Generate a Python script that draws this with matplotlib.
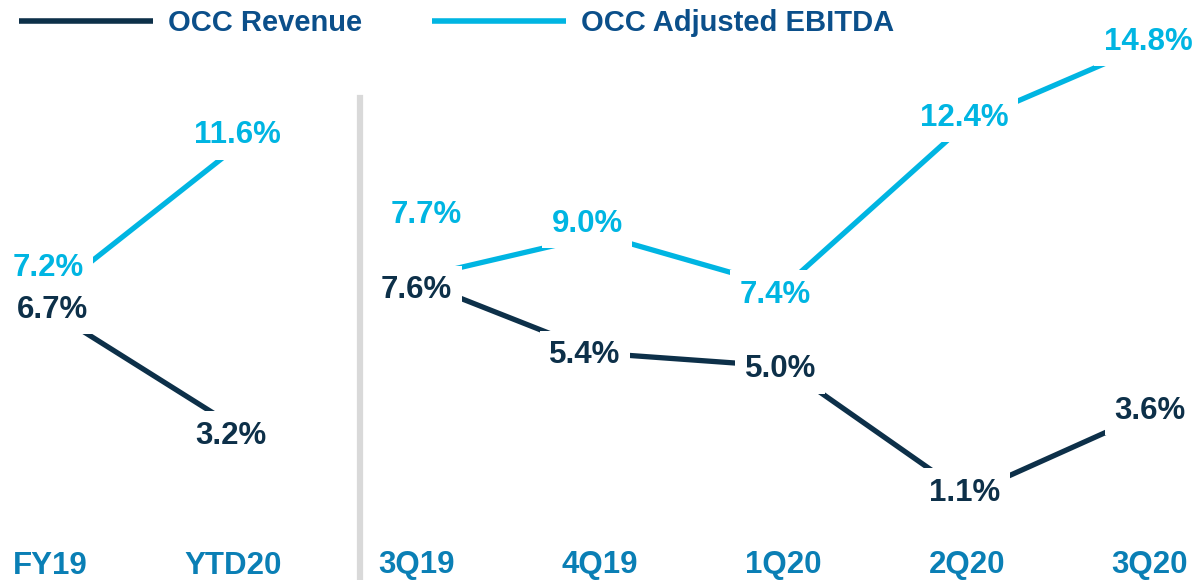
import matplotlib.pyplot as plt

plt.rcParams["font.family"] = ["Liberation Sans", "DejaVu Sans"]
plt.rcParams["font.weight"] = "bold"

# data
categories = ["FY19", "YTD20", "3Q19", "4Q19", "1Q20", "2Q20", "3Q20"]
revenue = [6.7, 3.2, 7.6, 5.4, 5.0, 1.1, 3.6]
ebitda = [7.2, 11.6, 7.7, 9.0, 7.4, 12.4, 14.8]
annual_idx = [0, 1]
quarter_idx = [2, 3, 4, 5, 6]

REV_COLOR = "#0d3049"
EBITDA_COLOR = "#00b5e2"
CAT_COLOR = "#0a7fb5"
LEGEND_COLOR = "#0b4f8a"

# label offsets in pixels (dx, dy)
rev_offsets = [(2, 1), (-2, -10), (0, -9), (-15, -2), (-3, -3), (-2, 2), (0, 2)]
ebitda_offsets = [(-2, 26), (4, 14), (10, 63), (-13, 11), (-8, -7), (-2, 5), (-2, 2)]


def main():
    fig = plt.figure(figsize=(11.96, 5.8), dpi=100)
    ax = fig.add_axes([0, 0, 1, 1])
    ax.set_xlim(-0.273, 6.251)
    ax.set_ylim(-1.49, 16.14)
    ax.axis("off")

    for idx in (annual_idx, quarter_idx):
        ax.plot(idx, [revenue[i] for i in idx], color=REV_COLOR, lw=3.8,
                solid_capstyle="butt", zorder=1,
                label="OCC Revenue" if idx is annual_idx else None)
        ax.plot(idx, [ebitda[i] for i in idx], color=EBITDA_COLOR, lw=3.8,
                solid_capstyle="butt", zorder=1,
                label="OCC Adjusted EBITDA" if idx is annual_idx else None)

    box = dict(boxstyle="square,pad=0.3", fc="white", ec="none")
    for i in range(len(categories)):
        dx, dy = rev_offsets[i]
        ax.annotate(f"{revenue[i]:.1f}%", (i, revenue[i]), xytext=(dx, dy),
                    textcoords="offset pixels", ha="center", va="center",
                    fontsize=22.5, fontweight="bold", color=REV_COLOR,
                    bbox=box, zorder=3)
        dx, dy = ebitda_offsets[i]
        ax.annotate(f"{ebitda[i]:.1f}%", (i, ebitda[i]), xytext=(dx, dy),
                    textcoords="offset pixels", ha="center", va="center",
                    fontsize=22.5, fontweight="bold", color=EBITDA_COLOR,
                    bbox=box, zorder=2)
        ax.text(i, 0.025, categories[i], transform=ax.get_xaxis_transform(),
                ha="center", va="center", fontsize=22.5, fontweight="bold",
                color=CAT_COLOR)

    ax.axvline(1.69, ymin=0.003, ymax=0.831, color="#d9d9d9", lw=4.5)

    leg = ax.legend(loc="upper left", bbox_to_anchor=(-0.006, 1.029), ncol=2,
                    frameon=False, handlelength=4.6,
                    handletextpad=0.5, columnspacing=2.4, labelcolor=LEGEND_COLOR,
                    prop={"weight": "bold", "size": 21})
    for line in leg.get_lines():
        line.set_linewidth(4)

    fig.savefig("out.png", dpi=100)


if __name__ == "__main__":
    main()
